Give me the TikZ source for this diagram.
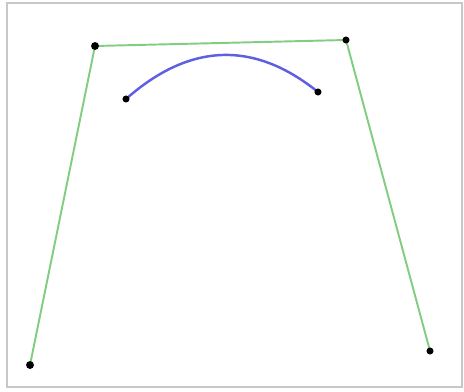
\documentclass[tikz,border=0pt]{standalone}
\usepackage{tikz}
\usetikzlibrary{
    positioning,              % Required for relative placement
    calc                      % Required for coordinate calculations
}

\definecolor{polygreen}{RGB}{130,205,130}
\definecolor{arcblue}{RGB}{95,95,225}
\definecolor{framegray}{RGB}{200,200,200}

\tikzset{
    ctrlpt/.style={circle, fill=black, inner sep=0pt, minimum size=4.5pt},
    endpt/.style={circle, fill=black, inner sep=0pt, minimum size=4pt}
}

\begin{document}
\begin{tikzpicture}
        % Canvas and frame
        \useasboundingbox (0,0) rectangle (9.28,7.82);
        \fill[white] (0,0) rectangle (9.28,7.82);
        \draw[framegray, line width=1.5pt] (0.14,0.08) rectangle (9.24,7.76);

        % Control polygon
        \coordinate (p0) at (0.60,0.52);
        \coordinate (p1) at (1.90,6.90);
        \coordinate (p2) at (6.92,7.02);
        \coordinate (p3) at (8.60,0.80);
        \draw[polygreen, line width=1.1pt] (p0) -- (p1) -- (p2) -- (p3);

        % Curve segment
        \coordinate (a) at (2.52,5.84);
        \coordinate (b) at (6.36,5.98);
        \draw[arcblue, line width=1.4pt] (a) .. controls (3.80,6.97) and (5.08,7.01) .. (b);

        % Points
        \node[ctrlpt] (n0) at (p0) {};
        \node[ctrlpt] (n1) at (p1) {};
        \node[endpt] (n2) at (p2) {};
        \node[endpt] (n3) at (p3) {};
        \node[endpt] (na) at (a) {};
        \node[endpt] (nb) at (b) {};
    \end{tikzpicture}
\end{document}
